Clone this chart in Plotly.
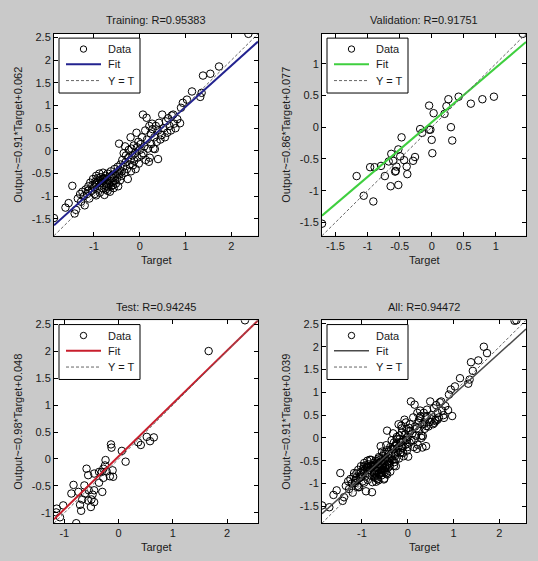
import plotly.graph_objects as go

# ---------------- data (target, output) ----------------
train_data = [
    (-1.87, -1.48), (-1.62, -1.25), (-1.55, -1.15), (-1.47, -0.77), (-1.42, -1.38),
    (-1.39, -1.30), (-1.35, -1.05), (-1.30, -0.95), (-1.28, -1.12), (-1.25, -0.90),
    (-1.22, -1.00), (-1.20, -1.20), (-1.18, -0.85), (-1.15, -0.95), (-1.12, -0.78),
    (-1.10, -1.05), (-1.08, -0.70), (-1.05, -0.88), (-1.02, -0.62), (-1.00, -0.80),
    (-0.98, -0.95), (-0.96, -0.72), (-0.95, -0.55), (-0.93, -0.85), (-0.90, -0.65),
    (-0.88, -0.78), (-0.87, -0.92), (-0.85, -0.58), (-0.84, -0.70), (-0.82, -0.82),
    (-0.80, -0.62), (-0.80, -0.48), (-0.78, -0.75), (-0.77, -0.97), (-0.76, -0.68),
    (-0.75, -0.55), (-0.74, -0.85), (-0.72, -0.62), (-0.71, -0.72), (-0.70, -0.50),
    (-0.69, -0.80), (-0.68, -0.65), (-0.66, -0.58), (-0.65, -0.90), (-0.64, -0.70),
    (-0.63, -0.45), (-0.62, -0.78), (-0.60, -0.60), (-0.59, -0.68), (-0.58, -0.52),
    (-0.57, -0.82), (-0.55, -0.40), (-0.54, -0.65), (-0.53, -0.55), (-0.52, -0.72),
    (-0.50, -0.48), (-0.49, -0.60), (-0.48, -0.35), (-0.47, -0.78), (-0.45, -0.52),
    (-0.44, -0.42), (-0.43, -0.65), (-0.42, -0.30), (-0.40, -0.55), (-0.39, -0.45),
    (-0.85, -0.65), (-0.78, -0.60), (-0.73, -0.78), (-0.67, -0.75), (-0.92, -0.60),
    (-0.97, -0.68), (-1.03, -0.75), (-0.88, -0.50), (-0.62, -0.55), (-0.58, -0.75),
    (-0.70, -0.88), (-1.13, -0.88), (-0.95, -0.98), (-0.82, -0.70), (-0.66, -0.66),
    (-0.45, 0.16), (-0.38, -0.20), (-0.36, -0.35), (-0.35, -0.05), (-0.33, -0.48),
    (-0.31, -0.25), (-0.30, -0.10), (-0.28, -0.40), (-0.26, -0.62), (-0.25, -0.15),
    (-0.24, 0.02), (-0.22, -0.30), (-0.20, -0.20), (-0.19, -0.45), (-0.18, 0.05),
    (-0.16, -0.10), (-0.15, -0.32), (-0.13, 0.12), (-0.12, -0.22), (-0.10, -0.05),
    (-0.09, -0.40), (-0.07, 0.40), (-0.06, 0.08), (-0.05, -0.15), (-0.03, 0.20),
    (-0.02, -0.28), (0.00, 0.02), (0.02, 0.15), (0.04, -0.10), (0.05, 0.30),
    (0.07, 0.80), (0.08, -0.05), (0.10, 0.10), (0.12, 0.45), (0.13, -0.20),
    (0.15, 0.73), (0.16, 0.25), (0.18, 0.05), (0.20, -0.24), (0.21, 0.55),
    (0.22, -0.15), (0.24, 0.38), (0.25, 0.15), (0.27, 0.60), (0.28, 0.48),
    (0.30, 0.05), (0.32, 0.30), (0.33, 0.04), (0.35, 0.55), (0.37, 0.20),
    (0.40, -0.18), (0.40, 0.45), (-0.20, 0.30), (-0.32, 0.10),
    (0.42, 0.62), (0.45, 0.25), (0.48, 0.35), (0.49, 0.80), (0.52, 0.50),
    (0.55, 0.30), (0.57, 0.65), (0.60, 0.40), (0.62, 0.72), (0.65, 0.55),
    (0.68, 0.45), (0.70, 0.78), (0.73, 0.80), (0.75, 0.60), (0.78, 0.50),
    (0.82, 0.70), (0.88, 0.61), (0.90, 0.95), (0.94, 1.06), (1.03, 1.13),
    (1.14, 1.31), (1.32, 1.19), (1.35, 1.28), (1.38, 1.66), (1.54, 1.70),
    (1.73, 1.86), (2.37, 2.58),
]

val_data = [
    (1.42, 1.47), (-1.71, -1.52), (0.42, 0.48), (0.26, 0.44), (0.23, 0.33),
    (0.20, 0.21), (-0.04, 0.34), (0.03, 0.22), (0.30, 0.00), (0.32, -0.21),
    (0.61, 0.37), (0.79, 0.44), (0.97, 0.48), (-0.18, -0.03), (-0.15, -0.09),
    (-0.04, -0.04), (-0.02, -0.04), (0.00, -0.20), (0.01, -0.41), (-0.47, -0.16),
    (-0.49, -0.46), (-0.52, -0.35), (-0.63, -0.42), (-0.60, -0.53), (-0.67, -0.54),
    (-0.55, -0.62), (-0.57, -0.70), (-0.39, -0.62), (-0.43, -0.52), (-0.38, -0.74),
    (-0.26, -0.47), (-0.29, -0.53), (-0.79, -0.61), (-0.89, -0.63), (-0.96, -0.63),
    (-1.17, -0.77), (-1.06, -1.08), (-0.91, -1.17), (-0.64, -0.93), (-0.52, -0.91),
    (-0.73, -0.77), (-0.56, -0.69),
]

test_data = [
    (2.33, 2.57), (1.66, 2.00), (0.65, 0.40), (0.58, 0.33), (0.52, 0.41),
    (0.41, 0.26), (0.36, 0.31), (0.06, 0.15), (0.13, -0.05), (-0.14, 0.27),
    (-0.13, 0.21), (-0.24, -0.02), (-0.25, -0.12), (-0.28, -0.18), (-0.31, -0.24),
    (-0.22, -0.23), (-0.11, -0.21), (-0.10, -0.33), (-0.16, -0.32), (-0.28, -0.35),
    (-0.36, -0.24), (-0.45, -0.27), (-0.56, -0.30), (-0.59, -0.18), (-0.83, -0.48),
    (-0.87, -0.64), (-0.74, -0.61), (-0.63, -0.49), (-0.62, -0.64), (-0.55, -0.58),
    (-0.50, -0.75), (-0.56, -0.77), (-0.48, -0.66), (-0.45, -0.58), (-0.67, -0.75),
    (-0.71, -0.85), (-0.69, -0.96), (-0.51, -0.89), (-0.30, -0.61), (-1.02, -0.86),
    (-1.14, -0.92), (-1.15, -0.99), (-1.08, -1.08), (-0.78, -1.19), (-0.36, -0.44),
    (-0.45, -0.80),
]

all_data = train_data + val_data + test_data

panel_titles = ["Training: R=0.95383", "Validation: R=0.91751",
                "Test: R=0.94245", "All: R=0.94472"]
fit_slope = [0.91, 0.86, 0.98, 0.91]
fit_intercept = [0.062, 0.077, 0.048, 0.039]
ylabel_texts = ["Output~=0.91*Target+0.062", "Output~=0.86*Target+0.077",
                "Output~=0.98*Target+0.048", "Output~=0.91*Target+0.039"]
legend_labels = ["Data", "Fit", "Y = T"]
fit_colors = ["#23238f", "#3fcf3f", "#c81e2c", "#4a4a4a"]

xtick_vals = [[-1, 0, 1, 2], [-1.5, -1, -0.5, 0, 0.5, 1], [-1, 0, 1, 2], [-1, 0, 1, 2]]
xtick_text = [["-1", "0", "1", "2"], ["-1.5", "-1", "-0.5", "0", "0.5", "1"],
              ["-1", "0", "1", "2"], ["-1", "0", "1", "2"]]
ytick_vals = [[-1.5, -1, -0.5, 0, 0.5, 1, 1.5, 2, 2.5],
              [-1.5, -1, -0.5, 0, 0.5, 1],
              [-1, -0.5, 0, 0.5, 1, 1.5, 2, 2.5],
              [-1.5, -1, -0.5, 0, 0.5, 1, 1.5, 2, 2.5]]
ytick_text = [[("%g" % v) for v in vs] for vs in ytick_vals]

datasets = [train_data, val_data, test_data, all_data]

# ---------------- layout geometry ----------------
W, H = 538, 561
FONT = "Liberation Sans, Arial, Helvetica, sans-serif"
TXT = "#1a1a1a"
col_px = [(54, 258), (322, 526)]
row_px = [(31, 234), (319, 523)]


def px(xp):
    return xp / W


def py(yp):
    return 1 - yp / H


fig = go.Figure()
annotations = []
shapes = []
layout_axes = {}

for i, data in enumerate(datasets):
    r, c = divmod(i, 2)
    t = [p[0] for p in data]
    y = [p[1] for p in data]
    lo = min(min(t), min(y))
    hi = max(max(t), max(y))
    xa = "x" if i == 0 else "x%d" % (i + 1)
    ya = "y" if i == 0 else "y%d" % (i + 1)

    fig.add_trace(go.Scatter(
        x=t, y=y, mode="markers", name=legend_labels[0], xaxis=xa, yaxis=ya,
        marker=dict(symbol="circle-open", size=7.5, color="black", line=dict(width=1)),
    ))
    fig.add_trace(go.Scatter(
        x=[lo, hi], y=[fit_slope[i] * lo + fit_intercept[i], fit_slope[i] * hi + fit_intercept[i]],
        mode="lines", name=legend_labels[1], xaxis=xa, yaxis=ya,
        line=dict(color=fit_colors[i], width=2 if i < 3 else 1.5),
    ))
    fig.add_trace(go.Scatter(
        x=[lo, hi], y=[lo, hi], mode="lines", name=legend_labels[2], xaxis=xa, yaxis=ya,
        line=dict(color="#666666", width=1, dash="3px,2px"),
    ))

    x0, x1 = col_px[c]
    y0, y1 = row_px[r]
    axis_common = dict(
        showgrid=False, zeroline=False, showline=True, linecolor="black", linewidth=1,
        mirror="ticks", ticks="inside", ticklen=4, tickcolor="black", tickwidth=1,
        tickfont=dict(family=FONT, size=11, color=TXT),
        range=[lo, hi], fixedrange=True,
    )
    xkey = "xaxis" if i == 0 else "xaxis%d" % (i + 1)
    ykey = "yaxis" if i == 0 else "yaxis%d" % (i + 1)
    layout_axes[xkey] = dict(axis_common, domain=[px(x0), px(x1)], anchor=ya,
                             tickmode="array", tickvals=xtick_vals[i], ticktext=xtick_text[i])
    layout_axes[ykey] = dict(axis_common, domain=[py(y1), py(y0)], anchor=xa,
                             tickmode="array", tickvals=ytick_vals[i], ticktext=ytick_text[i])

    cx = px((x0 + x1) / 2)
    title_y = (17 if r == 0 else 306)
    annotations.append(dict(text=panel_titles[i], x=cx, y=py(title_y), xref="paper", yref="paper",
                            showarrow=False, xanchor="center", yanchor="middle",
                            font=dict(family=FONT, size=11, color=TXT)))
    lab_y = (258 if r == 0 else 547)
    annotations.append(dict(text="Target", x=cx, y=py(lab_y), xref="paper", yref="paper",
                            showarrow=False, xanchor="center", yanchor="middle",
                            font=dict(family=FONT, size=11, color=TXT)))
    annotations.append(dict(text=ylabel_texts[i], x=px(18 + 268 * c), y=py((y0 + y1) / 2),
                            xref="paper", yref="paper", textangle=-90, showarrow=False,
                            xanchor="center", yanchor="middle",
                            font=dict(family=FONT, size=11, color=TXT)))

    # ---- legend box drawn inside the axes (MATLAB style) ----
    shapes.append(dict(type="rect", xref="paper", yref="paper",
                       x0=px(x0 + 5), x1=px(x0 + 86), y0=py(y0 + 59.5), y1=py(y0 + 4.3),
                       fillcolor="white", line=dict(color="black", width=1), layer="above"))
    rows = [y0 + 15.3, y0 + 30.5, y0 + 47]
    shapes.append(dict(type="circle", xref="paper", yref="paper",
                       xsizemode="pixel", ysizemode="pixel",
                       xanchor=px(x0 + 29.5), yanchor=py(rows[0]),
                       x0=-3.2, x1=3.2, y0=-3.2, y1=3.2,
                       line=dict(color="black", width=1), fillcolor="rgba(0,0,0,0)", layer="above"))
    shapes.append(dict(type="line", xref="paper", yref="paper",
                       x0=px(x0 + 12), x1=px(x0 + 47), y0=py(rows[1]), y1=py(rows[1]),
                       line=dict(color=fit_colors[i], width=2 if i < 3 else 1.5), layer="above"))
    shapes.append(dict(type="line", xref="paper", yref="paper",
                       x0=px(x0 + 12), x1=px(x0 + 47), y0=py(rows[2]), y1=py(rows[2]),
                       line=dict(color="#666666", width=1, dash="3px,2px"), layer="above"))
    for k, lab in enumerate(legend_labels):
        annotations.append(dict(text=lab, x=px(x0 + 51.5), y=py(rows[k]), xref="paper", yref="paper",
                                showarrow=False, xanchor="left", yanchor="middle",
                                font=dict(family=FONT, size=11, color=TXT)))

fig.update_layout(
    width=W, height=H, margin=dict(l=0, r=0, t=0, b=0),
    paper_bgcolor="#c9c9c9", plot_bgcolor="white",
    showlegend=False, annotations=annotations, shapes=shapes, **layout_axes,
)

fig.write_html("out.html")
